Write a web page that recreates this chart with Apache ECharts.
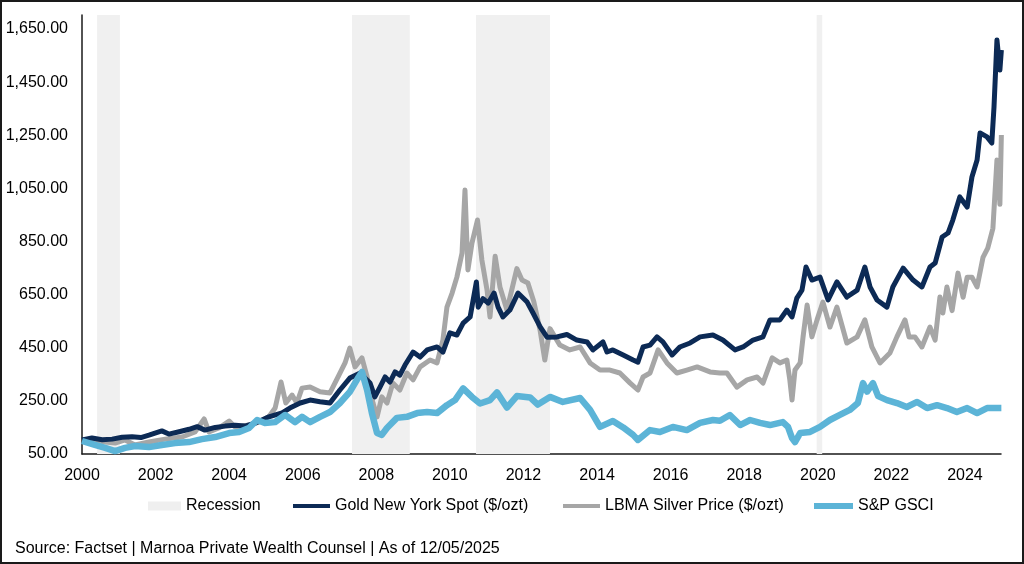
<!DOCTYPE html>
<html>
<head>
<meta charset="utf-8">
<script src="https://cdn.jsdelivr.net/npm/echarts@6/dist/echarts.min.js"></script>
<style>
html,body{margin:0;padding:0;background:#fff;}
#wrap{position:relative;width:1024px;height:564px;}
#chart{width:1024px;height:564px;}
#frame{position:absolute;left:0;top:0;width:1024px;height:564px;box-sizing:border-box;border:2px solid #1a1a1a;pointer-events:none;}
</style>
</head>
<body>
<div id="wrap"><div id="chart"></div><div id="frame"></div></div>
<script>
// Recession bands [start, end] in fractional years
const recessions = [
  [2000.41, 2001.03],
  [2007.34, 2008.91],
  [2010.71, 2012.72],
  [2019.97, 2020.12]
];

// Gold New York Spot (indexed), [year, value]
const gold = [
  [2000.00,103],[2000.27,110],[2000.55,104],[2000.82,106],[2001.09,113],[2001.36,115],[2001.60,112],[2001.82,121],
  [2002.17,137],[2002.36,125],[2002.64,134],[2002.91,143],[2003.13,153],[2003.34,140],[2003.62,150],[2003.89,155],
  [2004.16,158],[2004.43,155],[2004.70,166],[2005.08,190],[2005.44,205],[2005.65,223],[2005.93,242],[2006.20,253],
  [2006.47,247],[2006.74,242],[2007.01,291],[2007.28,336],[2007.56,355],[2007.69,336],[2007.83,317],[2007.96,265],
  [2008.10,302],[2008.24,340],[2008.37,321],[2008.51,359],[2008.64,347],[2008.78,385],[2009.00,434],[2009.19,415],
  [2009.38,442],[2009.65,453],[2009.81,434],[2010.00,506],[2010.19,498],[2010.36,543],[2010.55,566],[2010.72,698],
  [2010.77,603],[2010.90,635],[2011.04,618],[2011.20,656],[2011.31,603],[2011.44,566],[2011.63,592],[2011.85,656],
  [2012.10,622],[2012.26,581],[2012.45,530],[2012.64,490],[2012.91,491],[2013.18,500],[2013.45,479],[2013.73,472],
  [2013.89,442],[2014.16,472],[2014.27,434],[2014.43,442],[2014.71,423],[2014.98,404],[2015.11,396],[2015.25,453],
  [2015.44,460],[2015.63,491],[2015.79,472],[2016.04,423],[2016.25,453],[2016.53,468],[2016.80,491],[2017.15,498],
  [2017.42,479],[2017.75,442],[2017.97,453],[2018.24,479],[2018.51,491],[2018.70,555],[2018.97,555],[2019.16,592],
  [2019.30,566],[2019.43,637],[2019.57,667],[2019.68,754],[2019.84,705],[2020.06,716],[2020.28,630],[2020.52,698],
  [2020.79,641],[2021.07,667],[2021.28,754],[2021.42,679],[2021.61,630],[2021.88,603],[2022.04,679],[2022.32,750],
  [2022.59,705],[2022.83,679],[2023.05,754],[2023.19,769],[2023.38,867],[2023.54,882],[2023.67,931],[2023.86,1018],
  [2024.06,980],[2024.19,1093],[2024.33,1157],[2024.41,1259],[2024.60,1244],[2024.73,1221],[2024.79,1357],
  [2024.87,1609],[2024.95,1496],[2024.99,1571]
];

// LBMA Silver Price (indexed), [year, value]
const silver = [
  [2000.00,100],[2000.50,97],[2000.90,91],[2001.17,103],[2001.44,84],[2001.82,95],[2002.26,106],[2002.72,114],
  [2003.07,133],[2003.32,182],[2003.45,133],[2003.72,148],[2004.00,174],[2004.16,152],[2004.54,159],[2004.81,170],
  [2005.08,190],[2005.25,223],[2005.41,321],[2005.54,242],[2005.71,272],[2005.84,242],[2005.98,298],[2006.20,302],
  [2006.47,284],[2006.74,280],[2006.96,340],[2007.15,393],[2007.28,449],[2007.42,378],[2007.61,412],[2007.75,340],
  [2007.91,242],[2008.02,190],[2008.15,265],[2008.29,242],[2008.45,317],[2008.64,291],[2008.83,355],[2009.00,329],
  [2009.19,378],[2009.46,404],[2009.65,393],[2009.81,479],[2009.92,603],[2010.06,656],[2010.19,716],[2010.33,807],
  [2010.41,1044],[2010.49,743],[2010.60,844],[2010.75,931],[2010.87,780],[2011.01,667],[2011.09,566],[2011.23,795],
  [2011.36,679],[2011.55,592],[2011.82,748],[2011.96,705],[2012.12,694],[2012.28,624],[2012.45,517],[2012.58,404],
  [2012.72,522],[2012.99,460],[2013.26,442],[2013.54,453],[2013.81,393],[2014.08,366],[2014.35,366],[2014.62,355],
  [2014.90,317],[2015.11,291],[2015.25,340],[2015.44,355],[2015.66,442],[2015.90,393],[2016.17,355],[2016.44,366],
  [2016.72,378],[2017.07,359],[2017.34,355],[2017.53,355],[2017.80,302],[2018.08,329],[2018.35,340],[2018.51,317],
  [2018.76,412],[2018.97,393],[2019.16,404],[2019.24,329],[2019.30,253],[2019.38,366],[2019.52,393],[2019.60,491],
  [2019.71,611],[2019.84,491],[2019.98,555],[2020.14,622],[2020.33,528],[2020.52,603],[2020.79,468],[2021.07,491],
  [2021.28,555],[2021.47,453],[2021.69,393],[2021.96,430],[2022.15,491],[2022.37,555],[2022.48,491],[2022.64,491],
  [2022.83,453],[2023.05,528],[2023.19,479],[2023.32,641],[2023.40,581],[2023.51,679],[2023.65,590],[2023.81,731],
  [2023.95,640],[2024.06,716],[2024.19,716],[2024.33,679],[2024.49,790],[2024.62,825],[2024.76,900],[2024.87,1157],
  [2024.92,1082],[2024.95,990],[2024.99,1251]
];

// S&P GSCI (indexed), [year, value]
const gsci = [
  [2000.00,99],[2000.35,84],[2000.63,73],[2000.90,61],[2001.17,73],[2001.44,80],[2001.82,76],[2002.17,84],
  [2002.53,91],[2002.91,95],[2003.26,106],[2003.62,114],[2004.00,129],[2004.27,133],[2004.54,148],[2004.76,178],
  [2004.97,167],[2005.25,170],[2005.52,197],[2005.79,170],[2005.98,190],[2006.20,170],[2006.47,190],[2006.74,208],
  [2007.01,242],[2007.28,284],[2007.50,336],[2007.61,359],[2007.75,291],[2007.88,204],[2008.02,129],[2008.15,122],
  [2008.29,148],[2008.56,186],[2008.83,190],[2009.11,204],[2009.38,208],[2009.65,204],[2009.92,234],[2010.14,253],
  [2010.36,297],[2010.60,265],[2010.82,240],[2011.09,253],[2011.28,282],[2011.55,225],[2011.82,268],[2012.18,263],
  [2012.39,236],[2012.72,265],[2013.07,246],[2013.54,261],[2013.81,216],[2014.08,152],[2014.43,174],[2014.71,150],
  [2014.98,122],[2015.11,103],[2015.44,140],[2015.71,133],[2016.06,152],[2016.44,140],[2016.80,167],[2017.15,178],
  [2017.34,175],[2017.61,197],[2017.89,159],[2018.16,178],[2018.43,167],[2018.70,159],[2019.05,170],[2019.19,152],
  [2019.30,110],[2019.38,95],[2019.52,129],[2019.79,133],[2020.06,152],[2020.33,178],[2020.60,197],[2020.87,216],
  [2021.09,242],[2021.23,317],[2021.34,285],[2021.50,317],[2021.64,268],[2021.88,253],[2022.15,242],[2022.42,227],
  [2022.70,246],[2022.97,223],[2023.24,234],[2023.51,223],[2023.78,208],[2024.06,223],[2024.33,204],[2024.60,223],
  [2024.99,223]
];

const yTickLabels = [50, 250, 450, 650, 850, 1050, 1250, 1450, 1650];
const xTickLabels = [2000, 2002, 2004, 2006, 2008, 2010, 2012, 2014, 2016, 2018, 2020, 2022, 2024];

const FONT = 'Liberation Sans, Arial, sans-serif';
const chart = echarts.init(document.getElementById('chart'), null, {renderer: 'canvas'});

const legendBase = {
  top: 498,
  padding: 0,
  orient: 'horizontal',
  textStyle: {fontFamily: FONT, fontSize: 16, color: '#000'},
  itemGap: 0,
  selectedMode: false
};

chart.setOption({
  animation: false,
  backgroundColor: '#fff',
  grid: {left: 82, right: 23, top: 15, bottom: 110},
  legend: [
    Object.assign({}, legendBase, {left: 148, data: [{name: 'Recession', icon: 'rect'}], itemWidth: 33, itemHeight: 9}),
    Object.assign({}, legendBase, {left: 293, data: [{name: 'Gold New York Spot ($/ozt)', icon: 'rect'}], itemWidth: 37, itemHeight: 4}),
    Object.assign({}, legendBase, {left: 563, data: [{name: 'LBMA Silver Price ($/ozt)', icon: 'rect'}], itemWidth: 37, itemHeight: 4}),
    Object.assign({}, legendBase, {left: 814, data: [{name: 'S&P GSCI', icon: 'rect'}], itemWidth: 39, itemHeight: 6})
  ],
  graphic: [{
    type: 'text', left: 15, top: 541,
    style: {text: 'Source: Factset | Marnoa Private Wealth Counsel | As of 12/05/2025', font: '16px ' + FONT, fill: '#000'}
  }],
  xAxis: {
    type: 'value', min: 2000, max: 2024.98, interval: 2,
    axisLine: {lineStyle: {color: '#1a1a1a', width: 1.5}},
    axisTick: {show: false},
    splitLine: {show: false},
    axisLabel: {
      fontFamily: FONT, fontSize: 16, color: '#000', margin: 14,
      showMaxLabel: false,
      formatter: v => (xTickLabels.indexOf(Math.round(v * 100) / 100) >= 0 ? String(v) : '')
    }
  },
  yAxis: {
    type: 'value', min: 50, max: 1703, interval: 50,
    axisLine: {show: true, lineStyle: {color: '#1a1a1a', width: 1.5}},
    axisTick: {show: false},
    splitLine: {show: false},
    axisLabel: {
      fontFamily: FONT, fontSize: 16, color: '#000', margin: 14,
      formatter: v => (yTickLabels.indexOf(v) >= 0
        ? v.toLocaleString('en-US', {minimumFractionDigits: 2, maximumFractionDigits: 2}) : '')
    }
  },
  series: [
    {
      name: 'Recession', type: 'line', data: [], color: '#efefef',
      itemStyle: {color: '#efefef'},
      markArea: {
        silent: true,
        itemStyle: {color: '#f0f0f0'},
        data: recessions.map(r => [{xAxis: r[0]}, {xAxis: r[1]}])
      }
    },
    {
      name: 'LBMA Silver Price ($/ozt)', type: 'line', data: silver, showSymbol: false,
      color: '#a6a6a6', lineStyle: {width: 5, color: '#a6a6a6', join: 'round'}, itemStyle: {color: '#a6a6a6'}
    },
    {
      name: 'Gold New York Spot ($/ozt)', type: 'line', data: gold, showSymbol: false,
      color: '#0c2a55', lineStyle: {width: 5, color: '#0c2a55', join: 'round'}, itemStyle: {color: '#0c2a55'}
    },
    {
      name: 'S&P GSCI', type: 'line', data: gsci, showSymbol: false,
      color: '#5cb4d7', lineStyle: {width: 6.5, color: '#5cb4d7', join: 'round'}, itemStyle: {color: '#5cb4d7'}
    }
  ]
});
</script>
</body>
</html>
